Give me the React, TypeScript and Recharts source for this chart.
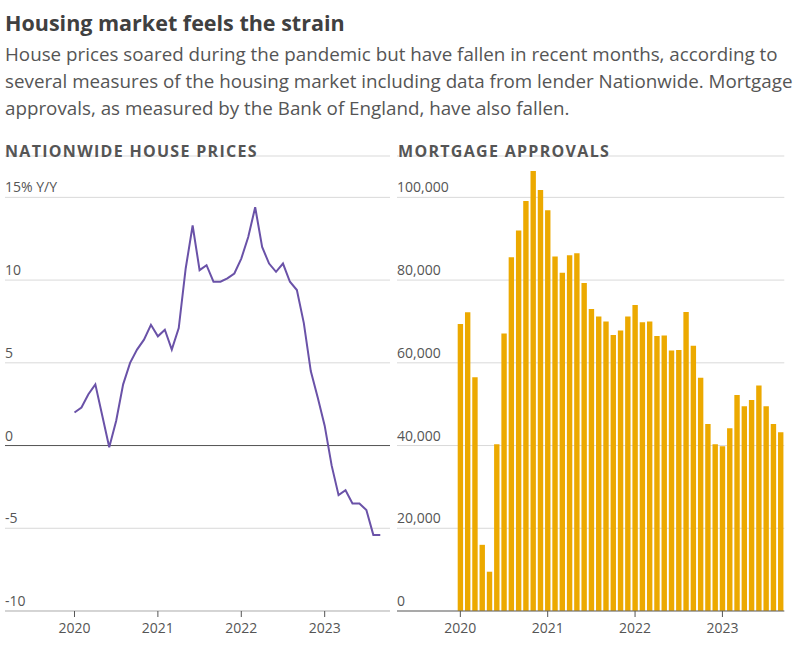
import React from 'react';
import { LineChart, Line, BarChart, Bar, XAxis, YAxis, CartesianGrid, ReferenceLine } from 'recharts';

const yearTicks = [0, 12, 24, 36];
const yearLabels = ['2020', '2021', '2022', '2023'];
const priceTicks = [-10, -5, 0, 5, 10, 15];
const priceTickLabels = ['-10', '-5', '0', '5', '10', '15% Y/Y'];
const approvalTicks = [0, 20000, 40000, 60000, 80000, 100000];
const approvalTickLabels = ['0', '20,000', '40,000', '60,000', '80,000', '100,000'];

// Nationwide house prices, % y/y, Jan 2020 - Sep 2023
const priceGrowth = [
  2.0, 2.3, 3.1, 3.7, 1.8, -0.1, 1.5, 3.7, 5.0, 5.8, 6.4, 7.3,
  6.6, 7.0, 5.8, 7.1, 10.7, 13.3, 10.6, 10.9, 9.9, 9.9, 10.1, 10.4,
  11.3, 12.6, 14.4, 12.0, 11.0, 10.5, 11.0, 9.9, 9.4, 7.4, 4.5, 2.9,
  1.2, -1.2, -3.0, -2.7, -3.5, -3.5, -3.9, -5.4, -5.4,
];

// Bank of England mortgage approvals, Jan 2020 - Sep 2023
const approvals = [
  69400, 72200, 56500, 16000, 9500, 40300, 67100, 85500, 92000, 99100, 106400, 101800,
  96900, 85700, 81800, 86000, 86500, 79300, 73000, 71200, 70000, 66700, 67800, 71200,
  74000, 69800, 70000, 66500, 66600, 63000, 63100, 72300, 64100, 56400, 45200, 40300,
  39800, 44200, 52200, 49500, 51000, 54500, 49500, 45200, 43200,
];

const priceData = priceGrowth.map((v, i) => ({ m: i, v }));
const approvalData = approvals.map((v, i) => ({ m: i, v }));

const FONT = '"Open Sans", sans-serif';
const LINE_COLOR = '#6a52a8';
const BAR_COLOR = '#eca900';
const TEXT = '#555555';

const yearFmt = (m: number) => yearLabels[yearTicks.indexOf(m)] ?? '';

const LeftTick = (props: any) => {
  const { y, payload } = props;
  const i = priceTicks.indexOf(payload.value);
  return (
    <text x={5} y={y - 5} fontSize={14} fill={TEXT} fontFamily={FONT}>
      {priceTickLabels[i]}
    </text>
  );
};

const RightTick = (props: any) => {
  const { y, payload } = props;
  const i = approvalTicks.indexOf(payload.value);
  return (
    <text x={397} y={y - 5} fontSize={14} fill={TEXT} fontFamily={FONT}>
      {approvalTickLabels[i]}
    </text>
  );
};

export default function App() {
  return (
    <div style={{ position: 'absolute', left: 0, top: 0, width: 800, height: 654, background: '#fff', fontFamily: FONT }}>
      <div style={{ position: 'absolute', left: 0, top: 0 }}>
        <LineChart width={800} height={654} data={priceData} margin={{ top: 156, right: 410, bottom: 13, left: 5 }}>
          <CartesianGrid vertical={false} stroke="#d9d9d9" />
          <XAxis
            dataKey="m"
            type="number"
            domain={[-10, 45.4]}
            ticks={yearTicks}
            tickFormatter={yearFmt}
            height={30}
            axisLine={{ stroke: '#bdbdbd' }}
            tickLine={{ stroke: '#555' }}
            tickSize={6}
            tickMargin={6}
            tick={{ fontSize: 14, fill: TEXT, fontFamily: FONT }}
            allowDataOverflow
          />
          <YAxis
            type="number"
            domain={[-10, 17.5]}
            ticks={priceTicks}
            width={60}
            mirror
            interval={0}
            axisLine={false}
            tickLine={false}
            tick={LeftTick}
            allowDataOverflow
          />
          <ReferenceLine y={0} stroke="#555" strokeWidth={1} />
          <Line
            type="linear"
            dataKey="v"
            stroke={LINE_COLOR}
            strokeWidth={2}
            dot={false}
            isAnimationActive={false}
          />
        </LineChart>
      </div>
      <div style={{ position: 'absolute', left: 0, top: 0 }}>
        <BarChart width={800} height={654} data={approvalData} margin={{ top: 156, right: 15.7, bottom: 13, left: 397 }}>
          <CartesianGrid vertical={false} stroke="#d9d9d9" />
          <XAxis
            dataKey="m"
            type="number"
            domain={[-8.7, 44.5]}
            ticks={yearTicks}
            tickFormatter={yearFmt}
            height={30}
            axisLine={{ stroke: '#666' }}
            tickLine={{ stroke: '#555' }}
            tickSize={6}
            tickMargin={6}
            tick={{ fontSize: 14, fill: TEXT, fontFamily: FONT }}
            allowDataOverflow
          />
          <YAxis
            type="number"
            domain={[0, 110000]}
            ticks={approvalTicks}
            width={60}
            mirror
            interval={0}
            axisLine={false}
            tickLine={false}
            tick={RightTick}
            allowDataOverflow
          />
          <Bar dataKey="v" fill={BAR_COLOR} barSize={5.4} isAnimationActive={false} />
        </BarChart>
      </div>
      <svg width={800} height={172} style={{ position: 'absolute', left: 0, top: 0 }}>
        <text x={5} y={31} fontSize={21.5} fontWeight={700} fill="#404040" fontFamily={FONT}>
          Housing market feels the strain
        </text>
        <text x={5} y={60.5} fontSize={18.8} fill={TEXT} fontFamily={FONT}>
          House prices soared during the pandemic but have fallen in recent months, according to
        </text>
        <text x={5} y={87.5} fontSize={18.8} fill={TEXT} fontFamily={FONT}>
          several measures of the housing market including data from lender Nationwide. Mortgage
        </text>
        <text x={5} y={114.5} fontSize={18.8} fill={TEXT} fontFamily={FONT}>
          approvals, as measured by the Bank of England, have also fallen.
        </text>
        <text x={5} y={157} fontSize={16} fontWeight={700} letterSpacing={1.3} fill={TEXT} fontFamily={FONT}>
          NATIONWIDE HOUSE PRICES
        </text>
        <text x={398} y={157} fontSize={16} fontWeight={700} letterSpacing={1.3} fill={TEXT} fontFamily={FONT}>
          MORTGAGE APPROVALS
        </text>
      </svg>
    </div>
  );
}
